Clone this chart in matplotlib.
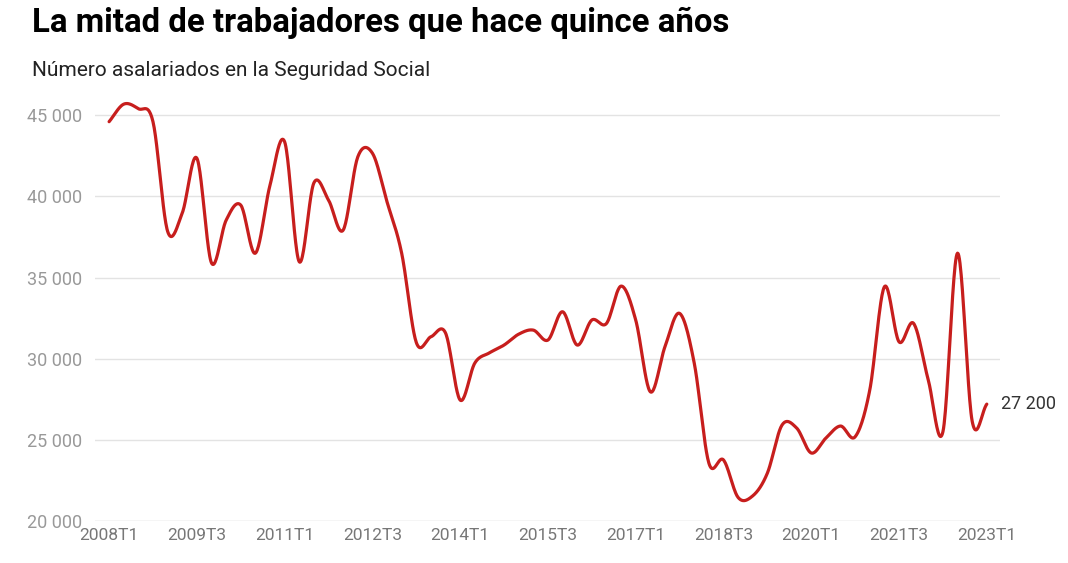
import numpy as np
import matplotlib
matplotlib.use("Agg")
import matplotlib.pyplot as plt
from matplotlib.ticker import FuncFormatter

# asalariados por trimestre, 2008T1 - 2023T1
trimestres = [f"{a}T{t}" for a in range(2008, 2024) for t in range(1, 5)][:61]
asalariados = [
    44600, 45680, 45400, 44600, 37850, 38970, 42350, 35900, 38530, 39460,
    36500, 40690, 43360, 35970, 40830, 39770, 37920, 42430, 42660, 39660,
    36500, 31000, 31350, 31580, 27450, 29730, 30360, 30840, 31510, 31760,
    31150, 32890, 30840, 32380, 32170, 34470, 32380, 27960, 30740, 32790,
    29730, 23570, 23760, 21450, 21550, 22950, 25910, 25730, 24190, 25110,
    25850, 25190, 28070, 34430, 31040, 32170, 28680, 25500, 36500, 26150,
    27200,
]
etiqueta_final = "27 200"
ticks_y = [20000, 25000, 30000, 35000, 40000, 45000]

ROJO = "#c71e1d"
GRIS = "#999999"


def curva_suave(x, y, n=24):
    # spline de Catmull-Rom (tangentes por diferencias centrales)
    x = np.asarray(x, float)
    y = np.asarray(y, float)
    m = np.zeros_like(y)
    m[1:-1] = (y[2:] - y[:-2]) / (x[2:] - x[:-2])
    m[0] = (y[1] - y[0]) / (x[1] - x[0])
    m[-1] = (y[-1] - y[-2]) / (x[-1] - x[-2])
    xs, ys = [], []
    for i in range(len(x) - 1):
        h = x[i + 1] - x[i]
        t = np.linspace(0, 1, n, endpoint=False)
        h00 = 2 * t**3 - 3 * t**2 + 1
        h10 = t**3 - 2 * t**2 + t
        h01 = -2 * t**3 + 3 * t**2
        h11 = t**3 - t**2
        xs.append(x[i] + t * h)
        ys.append(h00 * y[i] + h10 * h * m[i] + h01 * y[i + 1] + h11 * h * m[i + 1])
    xs.append([x[-1]])
    ys.append([y[-1]])
    return np.concatenate(xs), np.concatenate(ys)


plt.rcParams["font.family"] = ["Roboto", "DejaVu Sans"]

fig = plt.figure(figsize=(10.68, 5.63), dpi=100)
ax = fig.add_axes([0.0890, 0.0746, 0.8473, 0.7496])

x = np.arange(len(asalariados))
xs, ys = curva_suave(x, asalariados)
ax.plot(xs, ys, color=ROJO, lw=2.3, solid_capstyle="round", zorder=3)

ax.set_xlim(-0.96, 60.9)
ax.set_ylim(20000, 46000)

ax.set_yticks(ticks_y)
ax.yaxis.set_major_formatter(FuncFormatter(lambda v, p: f"{int(v):,}".replace(",", " ")))
ax.set_xticks(x[::6])
ax.set_xticklabels(trimestres[::6])

for v in ticks_y:
    ax.axhline(v, color="#cccccc" if v == 20000 else "#e3e3e3", lw=1, zorder=1)

for s in ax.spines.values():
    s.set_visible(False)
ax.tick_params(axis="y", length=0, pad=9, labelsize=13, labelcolor=GRIS)
ax.tick_params(axis="x", length=0, pad=5, labelsize=12.5, labelcolor="#777777")

ax.annotate(etiqueta_final, xy=(x[-1], asalariados[-1]), xytext=(10, 0),
            textcoords="offset points", va="center", ha="left",
            fontsize=13, color="#333333", annotation_clip=False)

fig.text(0.030, 0.960, "La mitad de trabajadores que hace quince años",
         fontsize=23.7, fontweight="bold", color="#000000", va="center")
fig.text(0.030, 0.875, "Número asalariados en la Seguridad Social",
         fontsize=15, color="#222222", va="center")

fig.savefig("out.png", dpi=100)
